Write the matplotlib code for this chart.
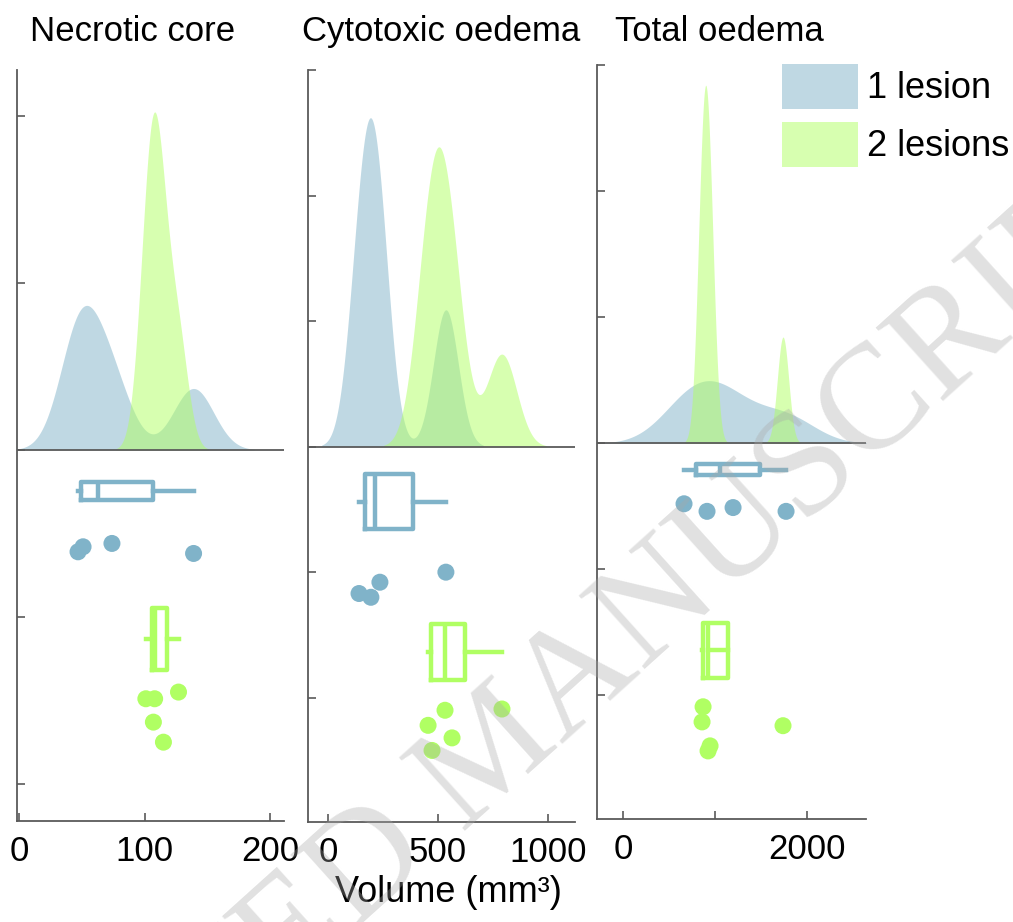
import numpy as np
import matplotlib.pyplot as plt
from matplotlib.patches import Patch

plt.rcParams['font.family'] = ['Liberation Sans', 'DejaVu Sans']

titles = ['Necrotic core', 'Cytotoxic oedema', 'Total oedema']
groups = ['1 lesion', '2 lesions']

necrotic_1 = [47, 51, 74, 139]
necrotic_2 = [101, 107, 108, 115, 127]
cytotoxic_1 = [141, 195, 236, 536]
cytotoxic_2 = [455, 473, 532, 564, 791]
total_1 = [663, 913, 1196, 1772]
total_2 = [859, 870, 924, 946, 1739]

# vertical jitter of the drops (axis units, below the clouds)
jit_necrotic_1 = [-0.61, -0.58, -0.56, -0.62]
jit_necrotic_2 = [-1.49, -1.63, -1.49, -1.75, -1.45]
jit_cytotoxic_1 = [-1.17, -1.20, -1.08, -1.00]
jit_cytotoxic_2 = [-2.22, -2.42, -2.10, -2.32, -2.09]
jit_total_1 = [-0.48, -0.54, -0.51, -0.54]
jit_total_2 = [-2.21, -2.09, -2.44, -2.40, -2.24]

blue = (0.50, 0.70, 0.79)
green = (0.69, 1.0, 0.39)
spine_col = '#5a5a5a'

W, H = 1013, 922
fig = plt.figure(figsize=(W / 100, H / 100), dpi=100)


def ksdensity(x):
    # gaussian kde, matlab-style bandwidth
    x = np.asarray(x, float)
    n = len(x)
    sig = np.median(np.abs(x - np.median(x))) / 0.6745
    h = sig * (4 / (3 * n)) ** 0.2
    g = np.linspace(x.min() - 3 * h, x.max() + 3 * h, 300)
    d = np.exp(-0.5 * ((g[:, None] - x) / h) ** 2).sum(1) / (n * h * np.sqrt(2 * np.pi))
    return g, d


def box_stats(x):
    x = np.asarray(x, float)
    q1, med, q3 = np.percentile(x, [25, 50, 75], method='hazen')
    iqr = q3 - q1
    lo = x[x >= q1 - 1.5 * iqr].min()
    hi = x[x <= q3 + 1.5 * iqr].max()
    return dict(med=med, q1=q1, q3=q3, whislo=lo, whishi=hi, fliers=[])


panels = [
    dict(data=[necrotic_1, necrotic_2], jit=[jit_necrotic_1, jit_necrotic_2],
         rect=(17, 70, 284, 821), xlim=(-1.6, 211), ylim=(-2.222, 2.275), peak=2.024,
         boxpos=[-0.246, -1.132], boxh=[0.112, 0.37],
         xticks=[0, 100, 200], xlabels=['0', '100', '200'], tx=0.433, pad=21),
    dict(data=[cytotoxic_1, cytotoxic_2], jit=[jit_cytotoxic_1, jit_cytotoxic_2],
         rect=(308, 70, 575, 822), xlim=(-91, 1123), ylim=(-2.99, 3.0), peak=2.62,
         boxpos=[-0.438, -1.633], boxh=[0.444, 0.444],
         xticks=[0, 500, 1000], xlabels=['0', '500', '1000'], tx=0.5, pad=21),
    dict(data=[total_1, total_2], jit=[jit_total_1, jit_total_2],
         rect=(597, 65, 866, 819), xlim=(-283, 2641), ylim=(-2.98, 3.0), peak=2.84,
         boxpos=[-0.21, -1.643], boxh=[0.085, 0.442],
         xticks=[0, 1000, 2000], xlabels=['0', '', '2000'], tx=0.454, pad=17.5),
]

for p, title in zip(panels, titles):
    l, t, r, b = p['rect']
    ax = fig.add_axes([l / W, 1 - b / H, (r - l) / W, (b - t) / H])
    kdes = [ksdensity(d) for d in p['data']]
    scale = p['peak'] / max(d.max() for _, d in kdes)
    for (g, d), c in zip(kdes, [blue, green]):
        ax.fill_between(g, 0, d * scale, color=c, alpha=0.5, lw=0)
    for vals, jit, c, pos, bh in zip(p['data'], p['jit'], [blue, green], p['boxpos'], p['boxh']):
        lp = dict(color=c, linewidth=3.2)
        ax.bxp([box_stats(vals)], positions=[pos], widths=[bh], orientation='horizontal',
               showcaps=False, showfliers=False, manage_ticks=False,
               boxprops=lp, whiskerprops=lp, medianprops=lp)
        ax.scatter(vals, jit, s=150, color=c, edgecolors='none', zorder=3)
    ax.axhline(0, color=spine_col, lw=1.3, zorder=4)
    ax.set_xlim(*p['xlim'])
    ax.set_ylim(*p['ylim'])
    ax.set_xticks(p['xticks'])
    ax.set_xticklabels(p['xlabels'])
    ax.set_yticks(np.arange(np.ceil(p['ylim'][0]), p['ylim'][1] + 0.01, 1))
    ax.tick_params(direction='in', length=6, width=1.2, color=spine_col, labelsize=25, pad=10)
    ax.tick_params(axis='y', labelleft=False)
    for s in ['top', 'right']:
        ax.spines[s].set_visible(False)
    for s in ['left', 'bottom']:
        ax.spines[s].set_color(spine_col)
        ax.spines[s].set_linewidth(1.3)
    ax.set_title(title, fontsize=25, x=p['tx'], pad=p['pad'])

fig.text(448 / W, 1 - 892 / H, 'Volume (mm³)', ha='center', va='center', fontsize=26)

handles = [Patch(facecolor=blue, alpha=0.5, lw=0), Patch(facecolor=green, alpha=0.5, lw=0)]
fig.legend(handles, groups, loc='upper left', bbox_to_anchor=(782 / W, 1 - 64 / H),
           frameon=False, fontsize=26, handlelength=2.1, handleheight=1.54,
           handletextpad=0.25, labelspacing=0.35, borderpad=0, borderaxespad=0)

# journal watermark
fig.text(495 / W, 1 - 755 / H, 'ACCEPTED MANUSCRIPT', rotation=42, fontsize=108,
         family='Liberation Serif', color='#a8a8a8', alpha=0.35, ha='center', va='center',
         rotation_mode='anchor', zorder=10)

fig.savefig('out.png', dpi=100)
